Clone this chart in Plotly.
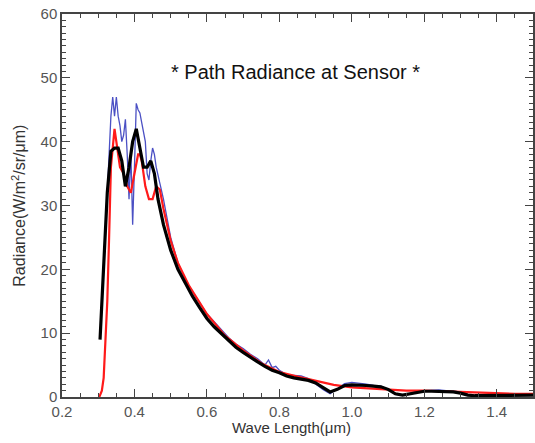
import plotly.graph_objects as go

# Black (smooth) series
wl_black = [0.305, 0.315, 0.325, 0.335, 0.345, 0.355, 0.365, 0.375, 0.385, 0.395, 0.405,
            0.415, 0.425, 0.435, 0.445, 0.455, 0.465, 0.48, 0.5, 0.52, 0.54, 0.56, 0.58,
            0.6, 0.62, 0.64, 0.66, 0.68, 0.7, 0.72, 0.74, 0.76, 0.78, 0.8, 0.82, 0.84,
            0.86, 0.88, 0.9, 0.92, 0.94, 0.96, 0.98, 1.0, 1.02, 1.04, 1.06, 1.08, 1.1,
            1.12, 1.14, 1.16, 1.18, 1.2, 1.22, 1.24, 1.26, 1.28, 1.3, 1.32, 1.34, 1.36,
            1.4, 1.45, 1.5]
rad_black = [9.0, 20.0, 32.0, 38.5, 39.0, 39.0, 37.0, 33.0, 36.0, 40.0, 42.0,
             39.0, 36.0, 36.0, 37.0, 35.0, 31.0, 27.0, 23.0, 20.0, 17.8, 15.8, 14.0,
             12.3, 11.0, 9.9, 8.8, 7.8, 7.0, 6.2, 5.5, 4.8, 4.2, 3.8, 3.3, 3.0,
             2.8, 2.6, 2.2, 1.5, 0.8, 1.2, 1.8, 1.9, 1.9, 1.8, 1.7, 1.6, 1.2,
             0.5, 0.3, 0.5, 0.8, 0.9, 0.9, 0.9, 0.8, 0.8, 0.6, 0.3, 0.2, 0.2,
             0.2, 0.3, 0.3]

# Red series
wl_red = [0.303, 0.31, 0.315, 0.32, 0.325, 0.33, 0.335, 0.345, 0.35, 0.36, 0.37, 0.38,
          0.39, 0.40, 0.41, 0.415, 0.42, 0.43, 0.44, 0.45, 0.46, 0.47, 0.48, 0.5, 0.52,
          0.55, 0.6, 0.65, 0.7, 0.75, 0.8, 0.85, 0.9, 0.95, 1.0, 1.05, 1.1, 1.15, 1.2,
          1.25, 1.3, 1.35, 1.4, 1.45, 1.5]
rad_red = [0.0, 1.0, 3.0, 8.0, 15.0, 25.0, 36.0, 42.0, 40.0, 36.0, 35.0, 33.0,
           32.0, 35.0, 38.0, 38.0, 37.0, 33.0, 31.0, 31.0, 33.0, 32.5, 29.5, 24.5, 21.0,
           17.5, 13.0, 9.6, 7.3, 5.3, 3.9, 3.2, 2.6, 1.9, 1.5, 1.3, 1.1, 1.0, 1.0,
           0.9, 0.7, 0.6, 0.5, 0.5, 0.5]

# Blue (noisy) series
wl_blue = [0.315, 0.325, 0.335, 0.34, 0.345, 0.35, 0.355, 0.36, 0.365, 0.37, 0.375,
           0.38, 0.385, 0.39, 0.395, 0.40, 0.405, 0.41, 0.415, 0.42, 0.43, 0.435, 0.44,
           0.445, 0.45, 0.455, 0.46, 0.47, 0.48, 0.5, 0.52, 0.54, 0.56, 0.58, 0.6, 0.62,
           0.64, 0.66, 0.68, 0.7, 0.72, 0.74, 0.76, 0.77, 0.78, 0.79, 0.8, 0.82, 0.84,
           0.86, 0.88, 0.9, 0.92, 0.94, 0.96, 0.98, 1.0, 1.02, 1.04, 1.06, 1.08, 1.1,
           1.12, 1.14, 1.16, 1.18, 1.2, 1.22, 1.24, 1.26, 1.28, 1.3, 1.32, 1.34, 1.4,
           1.5]
rad_blue = [20.0, 33.0, 44.0, 47.0, 44.0, 47.0, 44.0, 42.5, 40.0, 41.0, 43.5,
            38.0, 31.0, 38.5, 27.0, 36.0, 46.0, 45.0, 44.5, 43.0, 40.0, 35.0, 34.0,
            37.0, 39.0, 38.0, 36.0, 33.5, 31.0, 25.0, 21.0, 18.5, 16.5, 14.8, 13.0, 11.8,
            10.5, 9.3, 8.3, 7.6, 6.7, 6.0, 5.0, 5.8, 4.6, 4.8, 4.2, 3.5, 3.4,
            3.3, 2.9, 2.0, 1.2, 0.5, 1.3, 2.1, 2.3, 2.2, 2.0, 1.8, 1.7, 1.2,
            0.4, 0.3, 0.5, 0.9, 1.0, 1.0, 1.1, 1.0, 0.9, 0.8, 0.4, 0.2, 0.2,
            0.3]

x_ticks = [0.2, 0.4, 0.6, 0.8, 1.0, 1.2, 1.4]
x_tick_labels = ["0.2", "0.4", "0.6", "0.8", "1.0", "1.2", "1.4"]
y_ticks = [0, 10, 20, 30, 40, 50, 60]

FONT = "Liberation Sans, Arial, sans-serif"

fig = go.Figure()
fig.add_trace(go.Scatter(x=wl_blue, y=rad_blue, mode="lines",
                         line=dict(color="#4b50c4", width=1.3), showlegend=False))
fig.add_trace(go.Scatter(x=wl_red, y=rad_red, mode="lines",
                         line=dict(color="#ff1a1a", width=2.2), showlegend=False))
fig.add_trace(go.Scatter(x=wl_black, y=rad_black, mode="lines",
                         line=dict(color="#000000", width=3.2), showlegend=False))

axis_common = dict(
    showgrid=False, zeroline=False, showline=True, linecolor="#444444", linewidth=1.5,
    mirror="ticks", ticks="inside", ticklen=8, tickwidth=1.2, tickcolor="#444444",
    automargin=False, ticklabeloverflow="allow",
    tickfont=dict(family=FONT, size=15, color="#555555"),
)

fig.update_xaxes(range=[0.2, 1.5], tickvals=x_ticks, ticktext=x_tick_labels,
                 minor=dict(dtick=0.05, ticks="inside", ticklen=4, tickcolor="#444444", tickwidth=1),
                 **axis_common)
fig.update_yaxes(range=[0, 60], tickvals=y_ticks,
                 minor=dict(dtick=1, ticks="inside", ticklen=4, tickcolor="#444444", tickwidth=1),
                 **axis_common)

fig.add_annotation(text="* Path Radiance at Sensor *", xref="paper", yref="paper",
                   x=0.495, y=0.849, xanchor="center", yanchor="middle", showarrow=False,
                   font=dict(family=FONT, size=20, color="#111111"))
# axis titles
fig.add_annotation(text="Wave Length(\u03bcm)", xref="paper", yref="paper",
                   x=0.488, y=-0.08, yanchor="middle", showarrow=False,
                   font=dict(family=FONT, size=15, color="#333333"))
fig.add_annotation(text="Radiance(W/m<sup>2</sup>/sr/\u03bcm)", xref="paper", yref="paper",
                   x=-0.093, y=0.50, xanchor="center", yanchor="middle", textangle=-90,
                   showarrow=False,
                   font=dict(family=FONT, size=16, color="#333333"))

fig.update_layout(width=535, height=443, margin=dict(l=62, r=2, t=14, b=46),
                  plot_bgcolor="white", paper_bgcolor="white")

# remove the page's default body margin so the figure sits at the window's corner
fig.write_html("out.html", config={"displayModeBar": False},
               post_script="document.body.style.margin='0';")
